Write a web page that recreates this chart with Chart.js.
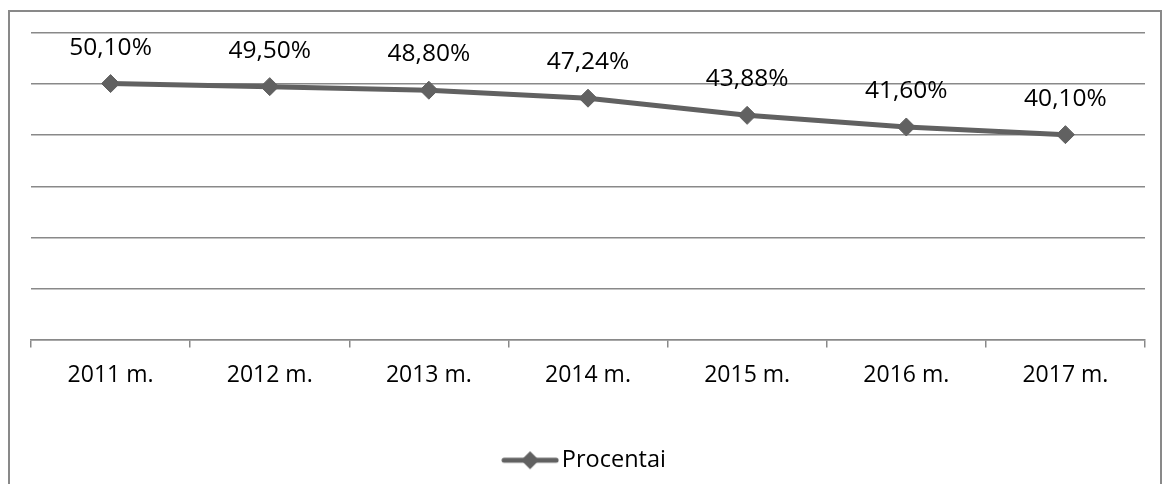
<!DOCTYPE html>
<html>
<head>
<meta charset="utf-8">
<script src="https://cdn.jsdelivr.net/npm/chart.js@4/dist/chart.umd.min.js"></script>
<style>
  html, body { margin:0; padding:0; background:#fff; }
  #wrap { width:1163px; height:484px; position:relative; }
</style>
</head>
<body>
<div id="wrap"><canvas id="chart" width="1163" height="484"></canvas></div>
<script>
/* DATA */
const years  = ["2011 m.","2012 m.","2013 m.","2014 m.","2015 m.","2016 m.","2017 m."];
const values = [50.10, 49.50, 48.80, 47.24, 43.88, 41.60, 40.10];
const seriesName = "Procentai";

/* STYLE */
const LINE = "#616161";
const GRID = "#898989";
const FONT = "'Open Sans', 'DejaVu Sans', sans-serif";

// legend marker: short line with a diamond
const mark = document.createElement("canvas");
mark.width = 58; mark.height = 20;
(()=>{
  const c = mark.getContext("2d");
  c.strokeStyle = LINE; c.lineWidth = 5; c.lineCap = "round";
  c.beginPath(); c.moveTo(3,10); c.lineTo(55,10); c.stroke();
  c.fillStyle = LINE;
  c.beginPath(); c.moveTo(29,1); c.lineTo(38,10); c.lineTo(29,19); c.lineTo(20,10); c.closePath(); c.fill();
})();

const fmt = v => v.toFixed(2).replace(".", ",") + "%";

// frame + white background
const frame = {
  id:"frame",
  beforeDraw(chart){
    const c = chart.ctx;
    c.save();
    c.fillStyle = "#fff"; c.fillRect(0,0,chart.width,chart.height);
    c.strokeStyle = GRID; c.lineWidth = 2;
    c.strokeRect(9, 11, 1152, 600);
    c.restore();
  }
};

// value labels above each point
const labels = {
  id:"labels",
  afterDatasetsDraw(chart){
    const c = chart.ctx, meta = chart.getDatasetMeta(0);
    c.save();
    c.font = "24.5px " + FONT;
    c.fillStyle = "#000";
    c.textAlign = "center"; c.textBaseline = "middle";
    meta.data.forEach((p,i)=>{ c.fillText(fmt(values[i]), p.x, p.y - 36); });
    c.restore();
  }
};

new Chart(document.getElementById("chart"), {
  type:"line",
  data:{
    labels: years,
    datasets:[{
      label: seriesName,
      data: values,
      borderColor: LINE, backgroundColor: LINE,
      borderWidth: 5,
      pointStyle: "rectRot", pointRadius: 9, pointHoverRadius: 9,
      pointBackgroundColor: LINE, pointBorderColor: LINE, pointBorderWidth: 1,
      tension: 0
    }]
  },
  options:{
    responsive:false, animation:false,
    layout:{ padding:{ left:31, right:18, top:33, bottom:2 } },
    plugins:{
      tooltip:{ enabled:false },
      legend:{
        position:"bottom", fullSize:false,
        labels:{
          usePointStyle:true, pointStyle: mark, pointStyleWidth: 40,
          color:"#000", font:{ family:FONT, size:23.5 }, padding:10
        }
      }
    },
    scales:{
      x:{
        offset:true,
        grid:{ offset:true, drawOnChartArea:false, drawTicks:true, tickLength:8, color:GRID, lineWidth:1.5 },
        border:{ color:GRID, width:1.5 },
        ticks:{ color:"#000", font:{ family:FONT, size:23 }, padding:14, maxRotation:0 },
        afterFit(s){ s.height = 99; }
      },
      y:{
        min:0, max:60,
        ticks:{ display:false, stepSize:10 },
        grid:{ color:GRID, lineWidth:1.5, drawTicks:false },
        border:{ display:false },
        afterFit(s){ s.width = 0; }
      }
    }
  },
  plugins:[frame, labels]
});
</script>
</body>
</html>
